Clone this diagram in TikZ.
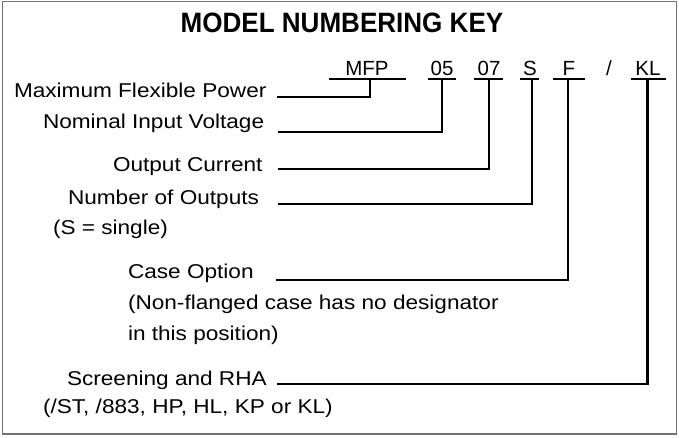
\documentclass[tikz,border=0pt]{standalone}
\usepackage{fontspec}
\setmainfont{Liberation Sans}[FakeStretch=1.13]
\newfontfamily\codefont{Liberation Sans}
\newfontfamily\titlefont{Liberation Sans}[FakeStretch=0.93]
\tikzset{
  lbl/.style={anchor=base west, inner sep=0pt, outer sep=0pt, font=\fontsize{20}{24}\selectfont},
  code/.style={anchor=base, inner sep=0pt, outer sep=0pt, font=\codefont\fontsize{20.5}{24}\selectfont},
  uline/.style={line width=2pt, black},
  conn/.style={line width=2.6pt, black, line cap=rect},
  frame/.style={draw=black!55, line width=1.3pt}
}
\begin{document}
\begin{tikzpicture}[x=1pt,y=-1pt]
\useasboundingbox (0,0) rectangle (679,437);
\draw[frame] (2.5,1.5) rectangle (676.5,434);
\node[anchor=base, inner sep=0pt, font=\titlefont\bfseries\fontsize{28}{32}\selectfont] (title) at (342,32) {MODEL NUMBERING KEY};
% code row
\node[code] (mfp) at (367,75) {MFP};
\node[code] (v05) at (442,75) {05};
\node[code] (v07) at (489,75) {07};
\node[code] (vs) at (530,75) {S};
\node[code] (vf) at (569,75) {F};
\node[code] (slash) at (609,75) {/};
\node[code] (kl) at (648,75) {KL};
% underlines
\draw[uline] (329,79) -- (406,79);
\draw[uline] (428,79) -- (456,79);
\draw[uline] (474,79) -- (503,79);
\draw[uline] (520,79) -- (539,79);
\draw[uline] (553,79) -- (585,79);
\draw[uline] (631,79) -- (666,79);
\coordinate (mfpU) at (370,79);
\coordinate (u05) at (442,79);
\coordinate (u07) at (489,79);
\coordinate (us) at (532,79);
\coordinate (uf) at (568,79);
\coordinate (ukl) at (647.5,79);
% labels
\node[lbl] (maxp) at (14,97) {Maximum Flexible Power};
\node[lbl] (nom) at (43,128) {Nominal Input Voltage};
\node[lbl] (outc) at (113,171) {Output Current};
\node[lbl] (numo) at (68,204) {Number of Outputs};
\node[lbl] (single) at (53,234) {(S = single)};
\node[lbl] (caseo) at (128,278) {Case Option};
\node[lbl] (nonfl) at (128,309) {(Non-flanged case has no designator};
\node[lbl] (pos) at (128,340) {in this position)};
\node[lbl] (scr) at (67,385) {Screening and RHA};
\node[lbl] (rha) at (43,413) {(/ST, /883, HP, HL, KP or KL)};
% connector ends
\coordinate (cmax) at (278,97);
\coordinate (cnom) at (279,132);
\coordinate (cout) at (279,169);
\coordinate (cnum) at (279,204);
\coordinate (ccase) at (277,280);
\coordinate (cscr) at (278,384);
% connectors
\draw[conn] (mfpU) |- (cmax);
\draw[conn] (u05) |- (cnom);
\draw[conn] (u07) |- (cout);
\draw[conn] (us) |- (cnum);
\draw[conn] (uf) |- (ccase);
\draw[conn] (ukl) |- (cscr);
\end{tikzpicture}
\end{document}
